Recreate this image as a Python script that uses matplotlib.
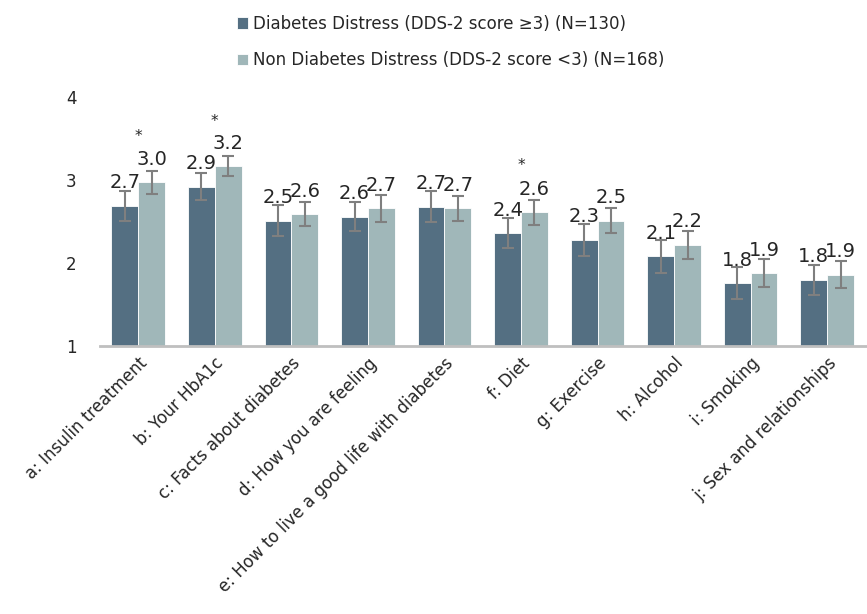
import matplotlib.pyplot as plt
import numpy as np

categories = ['a: Insulin treatment', 'b: Your HbA1c', 'c: Facts about diabetes',
              'd: How you are feeling', 'e: How to live a good life with diabetes',
              'f: Diet', 'g: Exercise', 'h: Alcohol', 'i: Smoking',
              'j: Sex and relationships']
distress = [2.69, 2.92, 2.51, 2.56, 2.68, 2.36, 2.28, 2.08, 1.76, 1.80]
distress_err = [0.18, 0.165, 0.19, 0.17, 0.19, 0.18, 0.19, 0.20, 0.19, 0.18]
non_distress = [2.97, 3.17, 2.59, 2.66, 2.66, 2.61, 2.51, 2.22, 1.88, 1.86]
non_distress_err = [0.14, 0.12, 0.15, 0.16, 0.15, 0.15, 0.15, 0.17, 0.17, 0.16]
significant = [True, True, False, False, False, True, False, False, False, False]

dark = '#546f82'
light = '#a0b7b9'

plt.rcParams['font.family'] = ['DejaVu Sans']
fig = plt.figure(figsize=(8.67, 6.14), dpi=100)
ax = fig.add_axes([0.1153, 0.4365, 0.883, 0.4055])

x = np.arange(len(categories))
w = 0.35
ekw = dict(ecolor='#7f7f7f', elinewidth=1.5, capsize=4, capthick=1.5)
b1 = ax.bar(x - w / 2, distress, w, color=dark, edgecolor='white',
            linewidth=0.6, yerr=distress_err, error_kw=ekw,
            label='Diabetes Distress (DDS-2 score \u22653) (N=130)')
b2 = ax.bar(x + w / 2, non_distress, w, color=light, edgecolor='white',
            linewidth=0.6, yerr=non_distress_err, error_kw=ekw,
            label='Non Diabetes Distress (DDS-2 score <3) (N=168)')

# value labels just above each bar top
for xs, vals in ((x - w / 2, distress), (x + w / 2, non_distress)):
    for xi, v in zip(xs, vals):
        ax.text(xi, v + 0.16, f'{v:.1f}', ha='center', va='bottom',
                fontsize=14, color='#262626')

# significance markers above each group
for i, sig in enumerate(significant):
    if sig:
        top = max(distress[i] + distress_err[i], non_distress[i] + non_distress_err[i])
        ax.text(x[i], top + 0.42, '*', ha='center', va='center',
                fontsize=11, color='#262626')

ax.set_ylim(1, 4)
ax.set_xlim(-0.5, len(categories) - 0.5)
ax.set_yticks([1, 2, 3, 4])
ax.tick_params(axis='y', length=0, pad=17, labelsize=12, labelcolor='#262626')
ax.set_xticks(x)
ax.set_xticklabels(categories, rotation=45, ha='right', rotation_mode='anchor',
                   fontsize=12, color='#262626')
ax.tick_params(axis='x', length=0, pad=6)
for s in ('top', 'right', 'left'):
    ax.spines[s].set_visible(False)
ax.spines['bottom'].set_color('#bfbfbf')
ax.spines['bottom'].set_linewidth(2)

fig.legend(handles=[b1, b2], loc='upper center', bbox_to_anchor=(0.52, 1.0),
           ncol=1, frameon=False, fontsize=12, handlelength=0.7,
           handleheight=0.7, handletextpad=0.3, labelspacing=1.1,
           labelcolor='#262626')

fig.savefig('out.png', dpi=100)
